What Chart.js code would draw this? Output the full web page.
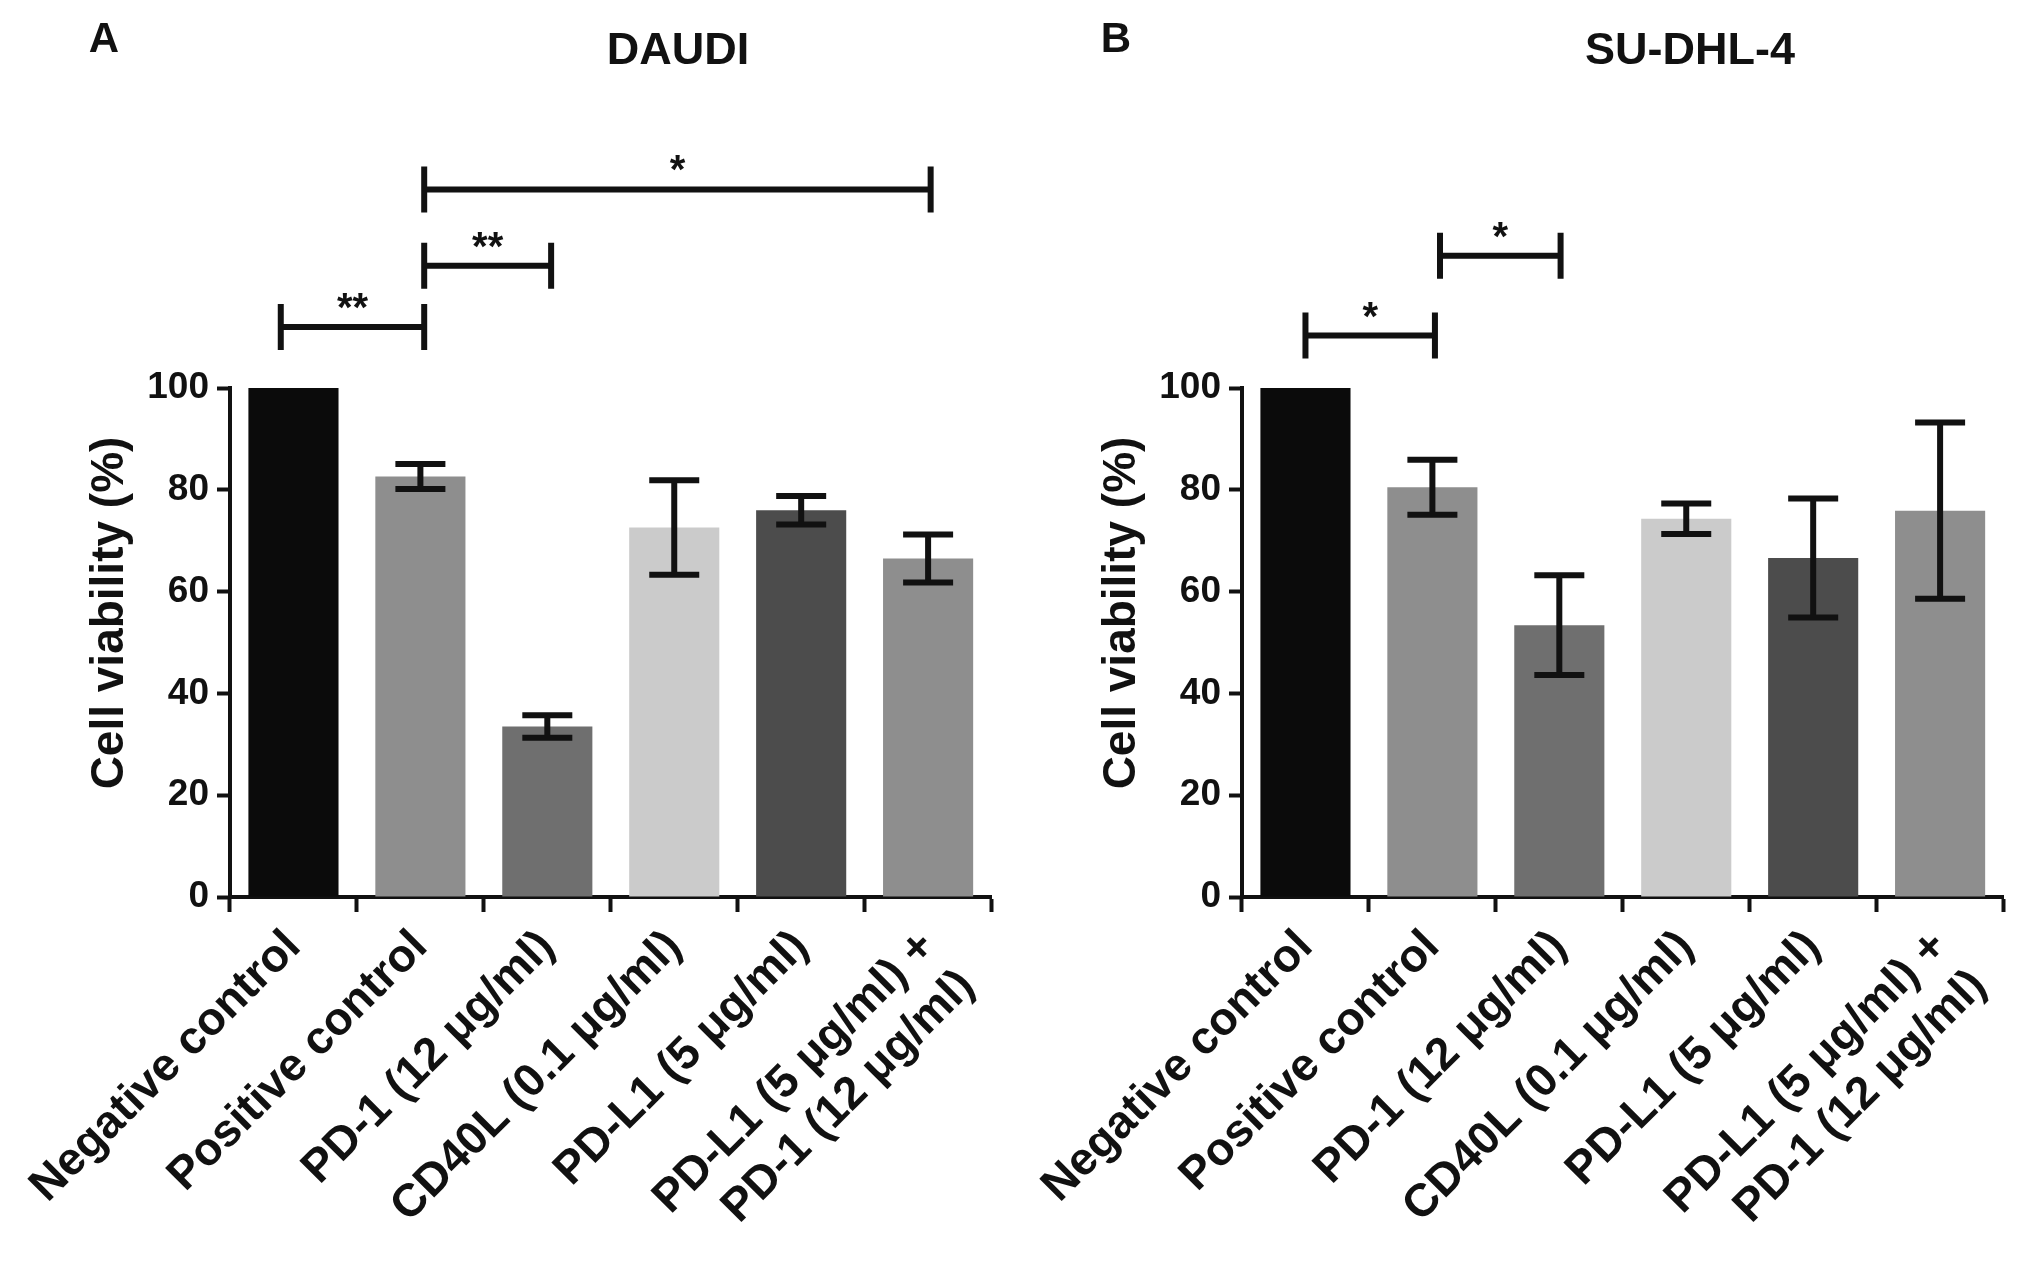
<!DOCTYPE html>
<html>
<head>
<meta charset="utf-8">
<title>Cell viability</title>
<script src="https://cdn.jsdelivr.net/npm/chart.js@4.4.1/dist/chart.umd.min.js"></script>
<style>
  body { margin: 0; background: #fff; }
  .panel { position: absolute; top: 0; width: 1015px; height: 1272px; }
</style>
</head>
<body>
<div class="panel" style="left:0"><canvas id="chartA" width="1015" height="1272"></canvas></div>
<div class="panel" style="left:1012px"><canvas id="chartB" width="1015" height="1272"></canvas></div>
<script>
// categories shared by both panels
const categories = [
  "Negative control",
  "Positive control",
  "PD-1 (12 μg/ml)",
  "CD40L (0.1 μg/ml)",
  "PD-L1 (5 μg/ml)",
  ["PD-L1 (5 μg/ml) +", "PD-1 (12 μg/ml)"]
];
const barColors = ["#0b0b0b", "#8e8e8e", "#6f6f6f", "#cbcbcb", "#4c4c4c", "#8e8e8e"];
const yTicks = [0, 20, 40, 60, 80, 100];
const yTitle = "Cell viability (%)";

// panel A - DAUDI (mean, error)
const daudiMean = [100, 82.6, 33.5, 72.6, 76.0, 66.5];
const daudiErr = [0, 2.45, 2.2, 9.3, 2.8, 4.7];
const daudiSig = [
  { from: -0.1, to: 1.03, y: 112, label: "**" },
  { from: 1.03, to: 2.03, y: 124, label: "**" },
  { from: 1.03, to: 5.02, y: 139, label: "*" }
];

// panel B - SU-DHL-4
const suMean = [100, 80.5, 53.4, 74.3, 66.6, 75.9];
const suErr = [0, 5.4, 9.8, 3.0, 11.7, 17.3];
const suSig = [
  { from: 0, to: 1.02, y: 110.3, label: "*" },
  { from: 1.06, to: 2.01, y: 126, label: "*" }
];

const ink = "#111";
const fam = "'Liberation Sans', Arial, sans-serif";

function extrasPlugin(letter, title, means, errs, sigs) {
  return {
    id: "extras",
    afterDatasetsDraw(chart) {
      const ctx = chart.ctx, y = chart.scales.y;
      const bars = chart.getDatasetMeta(0).data;
      ctx.save();
      ctx.strokeStyle = ink;
      ctx.lineWidth = 6;
      errs.forEach((e, i) => {
        if (!e) return;
        const cx = bars[i].x;
        const top = y.getPixelForValue(means[i] + e);
        const bot = y.getPixelForValue(means[i] - e);
        ctx.beginPath();
        ctx.moveTo(cx, top); ctx.lineTo(cx, bot);
        ctx.moveTo(cx - 25, top); ctx.lineTo(cx + 25, top);
        ctx.moveTo(cx - 25, bot); ctx.lineTo(cx + 25, bot);
        ctx.stroke();
      });
      ctx.restore();
    },
    afterDraw(chart) {
      const ctx = chart.ctx, x = chart.scales.x, y = chart.scales.y;
      ctx.save();
      ctx.strokeStyle = ink;
      ctx.fillStyle = ink;
      ctx.lineWidth = 6;
      sigs.forEach(s => {
        const x1 = x.getPixelForValue(s.from), x2 = x.getPixelForValue(s.to);
        const py = y.getPixelForValue(s.y);
        ctx.beginPath();
        ctx.moveTo(x1, py); ctx.lineTo(x2, py);
        ctx.moveTo(x1, py - 23); ctx.lineTo(x1, py + 23);
        ctx.moveTo(x2, py - 23); ctx.lineTo(x2, py + 23);
        ctx.stroke();
        ctx.font = "bold 40px " + fam;
        ctx.textAlign = "center";
        ctx.textBaseline = "alphabetic";
        ctx.fillText(s.label, (x1 + x2) / 2, py - 6);
      });
      ctx.textBaseline = "middle";
      ctx.textAlign = "center";
      ctx.font = "bold 42px " + fam;
      ctx.fillText(letter, 104, 40);
      ctx.font = "bold 45px " + fam;
      ctx.fillText(title, 678, 52);
      // y axis title
      ctx.translate(110, 613);
      ctx.rotate(-Math.PI / 2);
      ctx.font = "bold 46px " + fam;
      ctx.fillText(yTitle, 0, 0);
      ctx.restore();
    }
  };
}

function makeChart(id, letter, title, means, errs, sigs) {
  return new Chart(document.getElementById(id), {
    type: "bar",
    data: {
      labels: categories,
      datasets: [{
        data: means,
        backgroundColor: barColors,
        borderWidth: 0,
        barPercentage: 0.71,
        categoryPercentage: 1.0
      }]
    },
    options: {
      responsive: false,
      animation: false,
      layout: { padding: { top: 388, left: 82, right: 10, bottom: 0 } },
      plugins: { legend: { display: false }, tooltip: { enabled: false } },
      scales: {
        x: {
          offset: true,
          grid: { display: true, drawOnChartArea: false, tickLength: 15, tickWidth: 4, tickColor: ink },
          border: { display: true, color: ink, width: 4 },
          ticks: {
            autoSkip: false, minRotation: 45, maxRotation: 45, padding: 8,
            color: ink, font: { family: fam, size: 46, weight: "bold" }
          },
          afterFit(scale) { scale.height = 1272 - 897; }
        },
        y: {
          min: 0, max: 100,
          afterBuildTicks(scale) { scale.ticks = yTicks.map(v => ({ value: v })); },
          grid: { display: true, drawOnChartArea: false, tickLength: 13, tickWidth: 4, tickColor: ink },
          border: { display: true, color: ink, width: 4 },
          ticks: { color: ink, padding: 8, font: { family: fam, size: 37, weight: "bold" } },
          afterFit(scale) { scale.width = 230 - 82; }
        }
      }
    },
    plugins: [extrasPlugin(letter, title, means, errs, sigs)]
  });
}

makeChart("chartA", "A", "DAUDI", daudiMean, daudiErr, daudiSig);
makeChart("chartB", "B", "SU-DHL-4", suMean, suErr, suSig);
</script>
</body>
</html>
